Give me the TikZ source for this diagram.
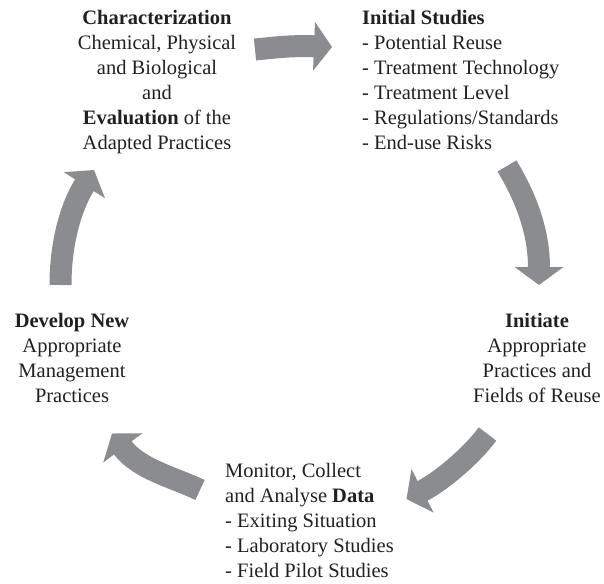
\documentclass[tikz,border=0pt]{standalone}
\usepackage{fontspec}
\setmainfont{Liberation Serif}
\usetikzlibrary{arrows.meta}
\definecolor{cyclegray}{RGB}{139,140,143}
\definecolor{inkblack}{RGB}{35,31,32}
\begin{document}
\begin{tikzpicture}[x=1pt,y=-1pt,
  label/.style={inner sep=0pt,text=inkblack,font=\fontsize{20.5}{25}\selectfont},
  cyclearrow/.style={draw=cyclegray,line width=22pt,
    -{Triangle[width=48pt,length=18pt]}}]
\useasboundingbox (0,0) rectangle (604,583);

% text blocks around the cycle
\node[label,anchor=north,align=center] (charac) at (157,6.5)
  {\strut\textbf{Characterization}\\Chemical, Physical\\and Biological\\and\\\textbf{Evaluation} of the\\Adapted Practices};
\node[label,anchor=north west,align=left] (initial) at (362,6.5)
  {\strut\textbf{Initial Studies}\\- Potential Reuse\\- Treatment Technology\\- Treatment Level\\- Regulations/Standards\\- End-use Risks};
\node[label,anchor=north,align=center] (initiate) at (537,309.5)
  {\strut\textbf{Initiate}\\Appropriate\\Practices and\\Fields of Reuse};
\node[label,anchor=north west,align=left] (monitor) at (225,459.5)
  {\strut Monitor, Collect\\and Analyse \textbf{Data}\\- Exiting Situation\\- Laboratory Studies\\- Field Pilot Studies};
\node[label,anchor=north,align=center] (develop) at (72,309.5)
  {\strut\textbf{Develop New}\\Appropriate\\Management\\Practices};

% tails and tips of the cycle arrows
\coordinate (t1) at (255,49.5);  \coordinate (h1) at (332,47);
\coordinate (t2) at (507,166);   \coordinate (h2) at (539,285);
\coordinate (t3) at (487.5,434); \coordinate (h3) at (406.5,499);
\coordinate (t4) at (200,490);   \coordinate (h4) at (112,433.5);
\coordinate (t5) at (60.5,285);  \coordinate (h5) at (94,170);

% cycle arrows
\draw[cyclearrow] (t1) .. controls (275,47.5) and (292,45.4) .. (h1);
\draw[cyclearrow] (t2) .. controls (525,196) and (539,230) .. (h2);
\draw[cyclearrow] (t3) .. controls (473,454) and (442,481) .. (h3);
\draw[cyclearrow] (t4) .. controls (173,477) and (139,469.5) .. (h4);
\draw[cyclearrow] (t5) .. controls (60.5,245) and (70,208) .. (h5);
\end{tikzpicture}
\end{document}
